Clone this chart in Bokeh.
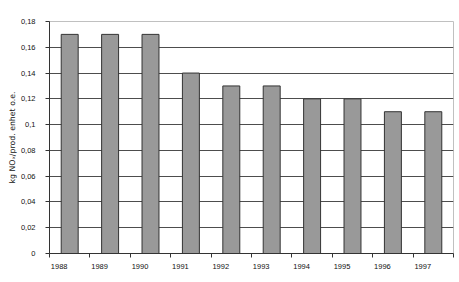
import math
from bokeh.plotting import figure
from bokeh.models import Range1d, FixedTicker, Title, ColumnDataSource
from bokeh.embed import file_html
from bokeh.resources import INLINE

years = ["1988", "1989", "1990", "1991", "1992", "1993", "1994", "1995", "1996", "1997"]
values = [0.17, 0.17, 0.17, 0.14, 0.13, 0.13, 0.12, 0.12, 0.11, 0.11]
y_ticks = [0, 0.02, 0.04, 0.06, 0.08, 0.1, 0.12, 0.14, 0.16, 0.18]
y_tick_labels = ["0", "0,02", "0,04", "0,06", "0,08", "0,1", "0,12", "0,14", "0,16", "0,18"]
y_title = "kg NO\u2093/prod. enhet o.e."

n = len(years)
xs = [i + 0.5 for i in range(n)]
src = ColumnDataSource(dict(x=xs, top=values, year=years))

p = figure(width=459, height=282, output_backend="svg", toolbar_location=None,
           x_range=Range1d(0, n), y_range=Range1d(0, 0.18),
           min_border_left=49, min_border_right=6, min_border_top=21, min_border_bottom=29)
p.background_fill_color = "white"
p.border_fill_color = "white"
p.outline_line_color = "#c0c0c0"
p.outline_line_width = 1

p.vbar(x="x", top="top", width=0.42, source=src, fill_color="#999999",
       line_color="#333333", line_width=1)

# x axis: labels slightly left of bar centers, ticks at category boundaries
label_pos = [i + 0.24 for i in range(n)]
p.xaxis.ticker = FixedTicker(ticks=label_pos, minor_ticks=list(range(n + 1)))
p.xaxis.major_label_overrides = {lp: y for lp, y in zip(label_pos, years)}
p.xaxis.major_tick_out = 0
p.xaxis.major_tick_in = 0
p.xaxis.minor_tick_out = 4
p.xaxis.minor_tick_in = 0
p.xaxis.minor_tick_line_color = "#333333"
p.xaxis.axis_line_color = "#333333"
p.xaxis.major_label_standoff = 6
p.xaxis.major_label_text_font = "Liberation Sans"
p.xaxis.major_label_text_font_size = "7.5px"
p.xaxis.major_label_text_color = "#111111"

p.yaxis.ticker = FixedTicker(ticks=y_ticks)
p.yaxis.major_label_overrides = {t: l for t, l in zip(y_ticks, y_tick_labels)}
p.yaxis.major_tick_out = 4
p.yaxis.major_tick_in = 0
p.yaxis.minor_tick_out = 0
p.yaxis.minor_tick_in = 0
p.yaxis.major_tick_line_color = "#333333"
p.yaxis.axis_line_color = "#333333"
p.yaxis.major_label_standoff = 10
p.yaxis.major_label_text_font = "Liberation Sans"
p.yaxis.major_label_text_font_size = "7.5px"
p.yaxis.major_label_text_color = "#111111"

p.xgrid.visible = False
p.ygrid.ticker = FixedTicker(ticks=y_ticks[1:-1])
p.ygrid.grid_line_color = "#4d4d4d"
p.ygrid.grid_line_width = 1

title = Title(text=y_title, align="center", offset=40, standoff=2,
              text_font="DejaVu Sans", text_font_size="7.8px", text_font_style="normal",
              text_color="#111111")
p.add_layout(title, "left")

open("out.html", "w").write(file_html(p, INLINE))
